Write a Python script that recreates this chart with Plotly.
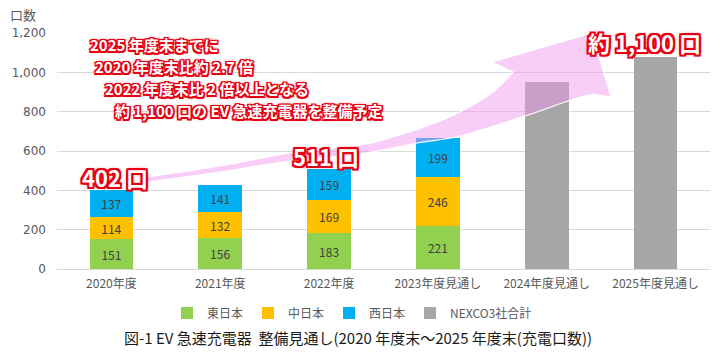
import plotly.graph_objects as go

# ---------------- data ----------------
categories = ["2020年度", "2021年度", "2022年度", "2023年度見通し", "2024年度見通し", "2025年度見通し"]
east = [151, 156, 183, 221, None, None]       # 東日本
central = [114, 132, 169, 246, None, None]    # 中日本
west = [137, 141, 159, 199, None, None]       # 西日本
nexco_total = [None, None, None, None, 950, 1080]  # NEXCO3社合計
y_ticks = [0, 200, 400, 600, 800, 1000, 1200]

message_lines = [
    "2025 年度末までに",
    "2020 年度末比約 2.7 倍",
    "2022 年度末比 2 倍以上となる",
    "約 1,100 口の EV 急速充電器を整備予定",
]
title_text = "図-1 EV 急速充電器  整備見通し(2020 年度末～2025 年度末(充電口数))"

# ---------------- layout helpers ----------------
W, H = 720, 357
L, R, T, B = 57, 10, 33, 88
PW, PH = W - L - R, H - T - B


def pp(x, y):
    """pixel -> paper coordinates (decoration only)"""
    return ((x - L) / PW, (H - B - y) / PH)


def smooth(points):
    """catmull-rom -> cubic bezier segments (string without leading M)"""
    pts = [pp(*p) for p in points]
    segs = []
    n = len(pts)
    for i in range(n - 1):
        p0 = pts[i - 1] if i > 0 else pts[i]
        p1 = pts[i]
        p2 = pts[i + 1]
        p3 = pts[i + 2] if i + 2 < n else pts[i + 1]
        c1 = (p1[0] + (p2[0] - p0[0]) / 6, p1[1] + (p2[1] - p0[1]) / 6)
        c2 = (p2[0] - (p3[0] - p1[0]) / 6, p2[1] - (p3[1] - p1[1]) / 6)
        segs.append(f"C{c1[0]:.4f},{c1[1]:.4f} {c2[0]:.4f},{c2[1]:.4f} {p2[0]:.4f},{p2[1]:.4f}")
    return " ".join(segs)


def P(x, y):
    a, b = pp(x, y)
    return f"{a:.4f},{b:.4f}"


upper = [(140, 178), (220, 166), (290, 153), (360, 145), (393, 137), (427, 126),
         (460, 112), (493, 92), (513, 72)]
lower = [(593, 94), (568, 101), (525, 116), (460, 136), (417, 143), (360, 154),
         (290, 161), (220, 172), (140, 183)]
arrow_path = (
    f"M{P(*upper[0])} " + smooth(upper)
    + f" L{P(492, 62)} L{P(592, 33)} L{P(611, 97)} L{P(*lower[0])} "
    + smooth(lower) + " Z"
)

RED = "#E60012"


def outline(w):
    offs = [(w, 0), (-w, 0), (0, w), (0, -w), (w, w), (-w, -w), (w, -w), (-w, w)]
    s = ", ".join(f"{RED} {dx}px {dy}px 0px" for dx, dy in offs)
    return s + f", {RED} 0px 0px {w + 2}px"


FONT = "Noto Sans CJK JP"
fig = go.Figure()

series = [
    ("東日本", east, "#92D050"),
    ("中日本", central, "#FFC000"),
    ("西日本", west, "#00B0F0"),
]
for name, vals, col in series:
    fig.add_trace(go.Bar(
        name=name, x=categories, y=vals, marker=dict(color=col, line=dict(width=0)),
        text=vals, texttemplate="%{y}", textposition="inside", insidetextanchor="middle",
        textangle=0, constraintext="none",
        textfont=dict(size=12, color="#404040", family=FONT),
    ))
fig.add_trace(go.Bar(
    name="NEXCO3社合計", x=categories, y=nexco_total,
    marker=dict(color="#A6A6A6", line=dict(width=0)),
))

totals = [sum(v for v in (e, c, w) if v is not None) for e, c, w in zip(east, central, west)]

annotations = []
# axis unit
annotations.append(dict(text="口数", xref="paper", yref="paper", x=pp(8, 15)[0], y=pp(8, 15)[1],
                        xanchor="left", yanchor="middle", showarrow=False,
                        font=dict(size=13, color="#595959", family=FONT)))
# message lines
line_pos = [(88, 45), (93, 67), (103, 88), (113, 110)]
for txt, (lx, ly) in zip(message_lines, line_pos):
    x, y = pp(lx, ly)
    annotations.append(dict(text=f"<b>{txt}</b>", xref="paper", yref="paper", x=x, y=y,
                            xanchor="left", yanchor="middle", showarrow=False,
                            font=dict(size=15, color="white", family=FONT, shadow=outline(1.5))))
# big value labels
big = [
    (categories[0], totals[0], f"{totals[0]} 口", 4, 13),
    (categories[2], totals[2], f"{totals[2]} 口", -3, 13),
    (categories[5], nexco_total[5], "約 1,100 口", -11, 15),
]
for cx, cy, txt, xs, ys in big:
    annotations.append(dict(text=f"<b>{txt}</b>", x=cx, y=cy, xref="x", yref="y",
                            xshift=xs, yshift=ys, yanchor="middle", showarrow=False,
                            font=dict(size=22, color="white", family=FONT, shadow=outline(2))))
# title
tx, ty = pp(358, 337)
annotations.append(dict(text=title_text, xref="paper", yref="paper", x=tx, y=ty,
                        xanchor="center", yanchor="middle", showarrow=False,
                        font=dict(size=15, color="#1a1a1a", family=FONT)))

lx, ly = pp(352, 313)
fig.update_layout(
    width=W, height=H,
    margin=dict(l=L, r=R, t=T, b=B, autoexpand=False),
    paper_bgcolor="white", plot_bgcolor="white",
    barmode="stack", bargap=0.6,
    showlegend=True,
    legend=dict(orientation="h", x=lx, y=ly, xanchor="center", yanchor="middle",
                font=dict(size=12, color="#595959", family=FONT), itemwidth=30,
                traceorder="normal"),
    xaxis=dict(showgrid=False, showline=False, ticks="", ticklabelstandoff=6,
               tickfont=dict(size=12, color="#595959", family=FONT), fixedrange=True),
    yaxis=dict(range=[0, 1200], tickvals=y_ticks, tickformat=",", showgrid=True,
               gridcolor="#D9D9D9", gridwidth=1, zeroline=True, zerolinecolor="#D9D9D9",
               zerolinewidth=1, showline=False, ticks="", ticklabelstandoff=10,
               tickfont=dict(size=12, color="#595959", family="DejaVu Sans")),
    shapes=[dict(type="path", path=arrow_path, xref="paper", yref="paper",
                 fillcolor="rgba(241,150,241,0.48)", line=dict(color="white", width=1.2),
                 layer="above")],
    annotations=annotations,
    font=dict(family=FONT),
)

fig.write_html("out.html", config={"displayModeBar": False},
               post_script="document.body.style.margin='0px';")
